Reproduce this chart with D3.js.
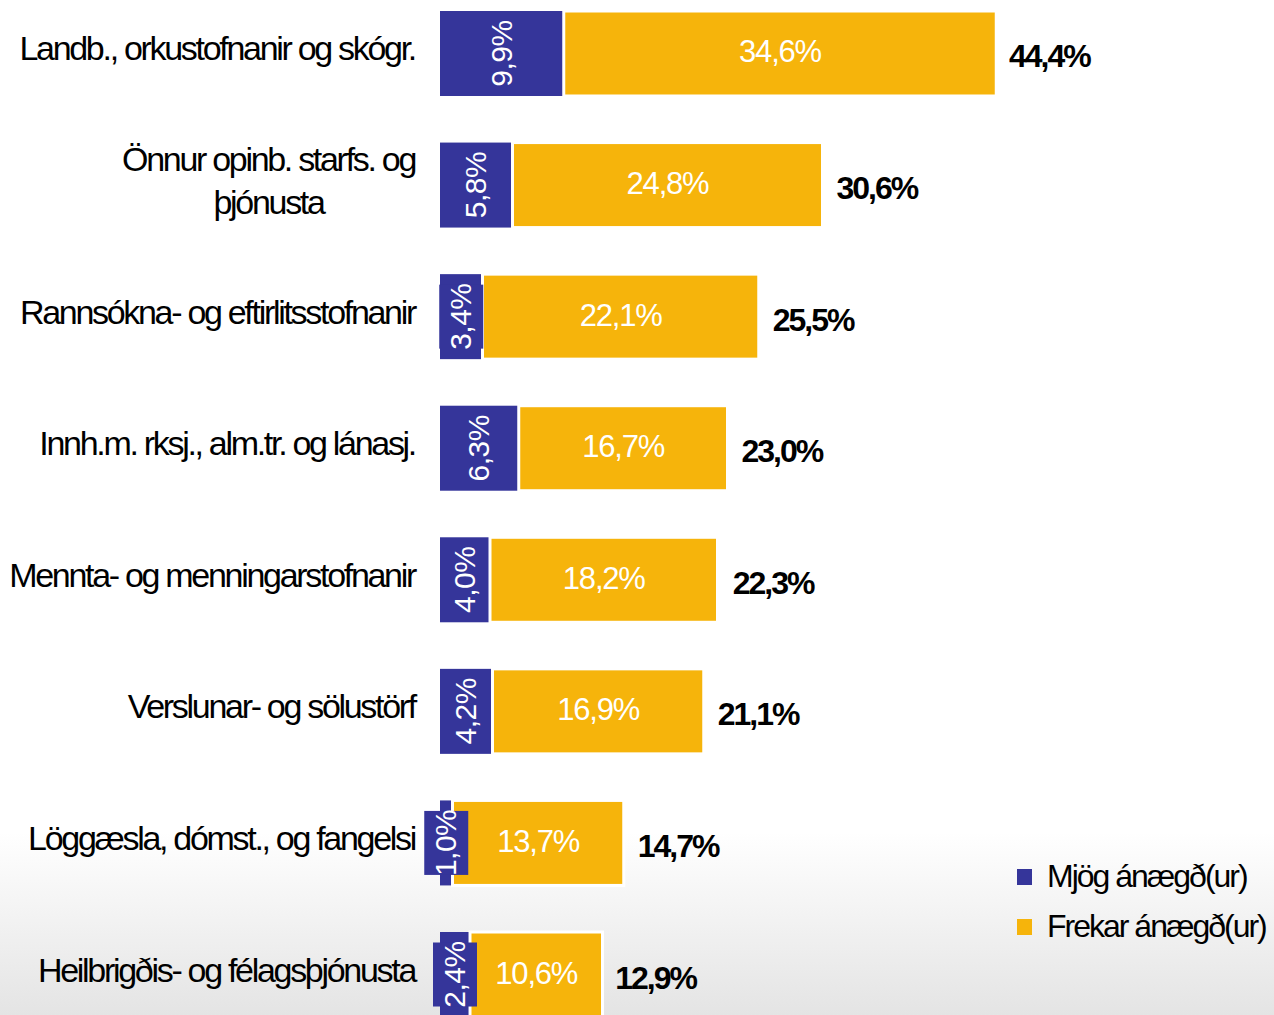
<!DOCTYPE html>
<html>
<head>
<meta charset="utf-8">
<script src="https://cdn.jsdelivr.net/npm/d3@7"></script>
<style>
  body { margin: 0; padding: 0; background: #fff; }
  svg { display: block; font-family: "Liberation Sans", Arial, sans-serif; }
</style>
</head>
<body>
<div id="vis"></div>
<script>
// data
var categories = [
  "Landb., orkustofnanir og skógr.",
  "Önnur opinb. starfs. og|þjónusta",
  "Rannsókna- og eftirlitsstofnanir",
  "Innh.m. rksj., alm.tr. og lánasj.",
  "Mennta- og menningarstofnanir",
  "Verslunar- og sölustörf",
  "Löggæsla, dómst., og fangelsi",
  "Heilbrigðis- og félagsþjónusta"
];
var veryHappy = [9.9, 5.8, 3.4, 6.3, 4.0, 4.2, 1.0, 2.4];
var ratherHappy = [34.6, 24.8, 22.1, 16.7, 18.2, 16.9, 13.7, 10.6];
var totals = [44.4, 30.6, 25.5, 23.0, 22.3, 21.1, 14.7, 12.9];
var seriesNames = ["Mjög ánægð(ur)", "Frekar ánægð(ur)"];
var colors = ["#35359a", "#f6b40b"];

var width = 1274, height = 1015;
var fmt = function(v) { return v.toFixed(1).replace(".", ",") + "%"; };

var svg = d3.select("#vis").append("svg")
  .attr("width", width)
  .attr("height", height);

// light grey fade at the bottom
var grad = svg.append("defs").append("linearGradient")
  .attr("id", "bg").attr("x1", 0).attr("y1", 0).attr("x2", 0).attr("y2", 1);
grad.append("stop").attr("offset", "0.82").attr("stop-color", "#ffffff");
grad.append("stop").attr("offset", "1").attr("stop-color", "#e4e4e4");
svg.append("rect").attr("width", width).attr("height", height).attr("fill", "url(#bg)");

var x = d3.scaleLinear().domain([0, 44.4]).range([440, 995]);
var y = d3.scaleBand().domain(categories).range([11, 1017]).paddingInner(0.354).paddingOuter(0);

var rows = categories.map(function(c, i) {
  return { cat: c, a: veryHappy[i], b: ratherHappy[i], t: totals[i] };
});

var g = svg.selectAll("g.row").data(rows).enter().append("g").attr("class", "row");

// yellow segment
g.append("rect")
  .attr("x", function(d) { return x(d.a); })
  .attr("y", function(d) { return y(d.cat); })
  .attr("width", function(d) { return x(d.a + d.b) - x(d.a); })
  .attr("height", y.bandwidth())
  .attr("fill", colors[1])
  .attr("stroke", "#fff").attr("stroke-width", 3);

// blue segment
g.append("rect")
  .attr("x", x(0))
  .attr("y", function(d) { return y(d.cat); })
  .attr("width", function(d) { return x(d.a) - x(0) - 1.5; })
  .attr("height", y.bandwidth())
  .attr("fill", colors[0]);

// blue label box (shows when segment is narrow)
g.append("rect")
  .attr("x", function(d) { return (x(0) + x(d.a)) / 2 - 22; })
  .attr("y", function(d) { return y(d.cat) + y.bandwidth() / 2 - 32; })
  .attr("width", function(d) { return x(d.a) - x(0) - 1.5 < 44 ? 44 : 0; })
  .attr("height", 64)
  .attr("fill", colors[0]);

g.append("text")
  .attr("transform", function(d) {
    return "translate(" + ((x(0) + x(d.a)) / 2 + 10) + "," + (y(d.cat) + y.bandwidth() / 2) + ") rotate(-90)";
  })
  .attr("text-anchor", "middle")
  .attr("fill", "#fff")
  .style("font-size", "30px")
  .style("letter-spacing", "-0.5px")
  .text(function(d) { return fmt(d.a); });

// yellow labels
g.append("text")
  .attr("x", function(d) { return (x(d.a) + x(d.a + d.b)) / 2; })
  .attr("y", function(d) { return y(d.cat) + y.bandwidth() / 2 + 9; })
  .attr("text-anchor", "middle")
  .attr("fill", "#fff")
  .style("font-size", "31px")
  .style("letter-spacing", "-1.2px")
  .text(function(d) { return fmt(d.b); });

// totals
g.append("text")
  .attr("x", function(d) { return x(d.t) + 14; })
  .attr("y", function(d) { return y(d.cat) + y.bandwidth() / 2 + 14; })
  .attr("fill", "#000")
  .style("font-size", "32px")
  .style("font-weight", "bold")
  .style("letter-spacing", "-2px")
  .text(function(d) { return fmt(d.t); });

// category labels
g.each(function(d) {
  var lines = d.cat.split("|");
  var t = d3.select(this).append("text")
    .attr("fill", "#000")
    .style("font-size", "34px")
    .style("letter-spacing", "-2.3px");
  var cy = y(d.cat) + y.bandwidth() / 2 + 7;
  var lh = 43;
  lines.forEach(function(l, k) {
    t.append("tspan")
      .attr("y", cy - (lines.length - 1) * lh / 2 + k * lh)
      .text(l);
  });
  var maxW = 0;
  t.selectAll("tspan").each(function() { maxW = Math.max(maxW, this.getComputedTextLength()); });
  var right = 415;
  t.attr("text-anchor", "middle").selectAll("tspan").attr("x", right - maxW / 2);
});

// legend
var leg = svg.append("g").selectAll("g").data(seriesNames).enter().append("g")
  .attr("transform", function(d, i) { return "translate(1017," + (869 + i * 50) + ")"; });
leg.append("rect").attr("width", 15).attr("height", 16)
  .attr("fill", function(d, i) { return colors[i]; });
leg.append("text")
  .attr("x", 30).attr("y", 18)
  .style("font-size", "32px")
  .style("letter-spacing", "-2px")
  .text(function(d) { return d; });
</script>
</body>
</html>
